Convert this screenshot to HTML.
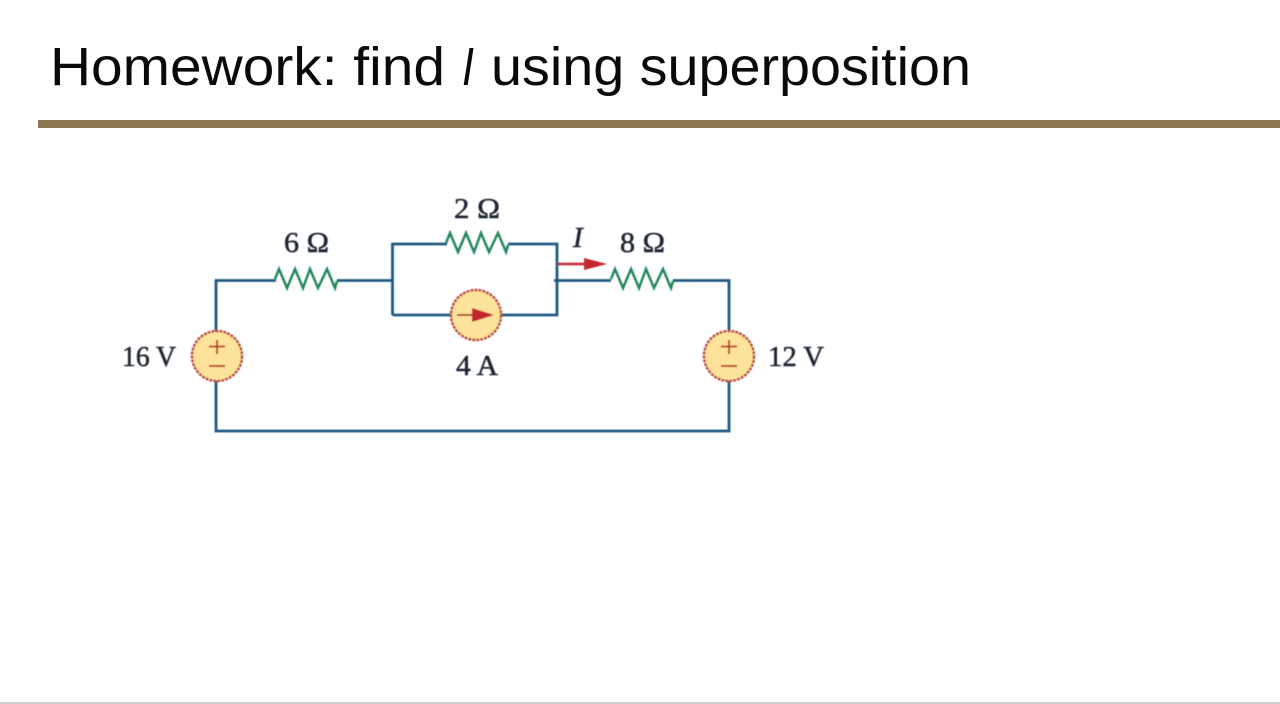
<!DOCTYPE html>
<html>
<head>
<meta charset="utf-8">
<style>
html,body{margin:0;padding:0;background:#fff;width:1280px;height:704px;overflow:hidden}
svg{display:block}
</style>
</head>
<body>
<svg width="1280" height="704" viewBox="0 0 1280 704" xmlns="http://www.w3.org/2000/svg">
<defs><filter id="b" x="-5%" y="-5%" width="110%" height="110%"><feGaussianBlur stdDeviation="0.5"/></filter></defs>
<rect width="1280" height="704" fill="#fff"/>
<g font-family="'Liberation Sans',sans-serif" font-size="54" fill="#0a0a0a">
<text x="50" y="85" textLength="395" lengthAdjust="spacingAndGlyphs">Homework: find</text>
<text x="462" y="85" font-style="italic" textLength="12" lengthAdjust="spacingAndGlyphs">I</text>
<text x="491" y="85" textLength="480" lengthAdjust="spacingAndGlyphs">using superposition</text>
</g>
<rect x="38" y="120" width="1242" height="8" fill="#8b7650"/>
<rect x="0" y="702" width="1280" height="2" fill="#d2d2d2"/>
<g filter="url(#b)">
<g fill="none" stroke="#1f5a80" stroke-width="2.800">
<path d="M216 331V280.500H276M337 280.500H392.500M392.500 315V244H447M508 244H557V315H500M452 315H392.500"/>
<path d="M554 280.500H611M673 280.500H729V331M729 381V431H216V381"/>
</g>
<g fill="none" stroke="#23875c" stroke-width="2.500" stroke-linejoin="miter">
<path d="M275 279L279 269L287 288L295 269L303 288L310 269L318 288L327 269L335 288L337 281"/>
<path d="M446 243L450 233L458 252L466 233L474 252L481 233L489 252L498 233L506 252L508 245"/>
<path d="M611 279L615 269L623 288L631 269L639 288L646 269L654 288L663 269L671 288L673 281"/>
</g>
<g fill="#fde29a" stroke="#b8433c" stroke-width="2.400" stroke-dasharray="3 1">
<circle cx="217" cy="356" r="25"/>
<circle cx="476" cy="315" r="25"/>
<circle cx="729" cy="356" r="25"/>
</g>
<g stroke="#b8432f" stroke-width="2" fill="none">
<path d="M217 340V354M209 346.500H225M209 366H225"/>
<path d="M729 340V354M721 346.500H737M721 366H737"/>
</g>
<path d="M457 315H484" stroke="#b8432f" stroke-width="2"/>
<path d="M472 308L494 315L472 322Z" fill="#c2262e"/>
<path d="M558 264H586" stroke="#c2262e" stroke-width="2.400"/>
<path d="M584 258L607 264L584 270Z" fill="#c2262e"/>
<g font-family="'Liberation Serif',serif" font-size="29" fill="#1c2530" stroke="#1c2530" stroke-width="0.500">
<text x="122" y="366" textLength="54" lengthAdjust="spacingAndGlyphs">16 V</text>
<text x="768" y="366" textLength="56" lengthAdjust="spacingAndGlyphs">12 V</text>
<text x="284" y="252" textLength="45" lengthAdjust="spacingAndGlyphs">6 Ω</text>
<text x="454" y="218" textLength="46" lengthAdjust="spacingAndGlyphs">2 Ω</text>
<text x="620" y="252" textLength="45" lengthAdjust="spacingAndGlyphs">8 Ω</text>
<text x="456" y="375" textLength="42" lengthAdjust="spacingAndGlyphs">4 A</text>
<text x="573" y="247" font-style="italic">I</text>
</g>
</g>
</svg>
</body>
</html>
